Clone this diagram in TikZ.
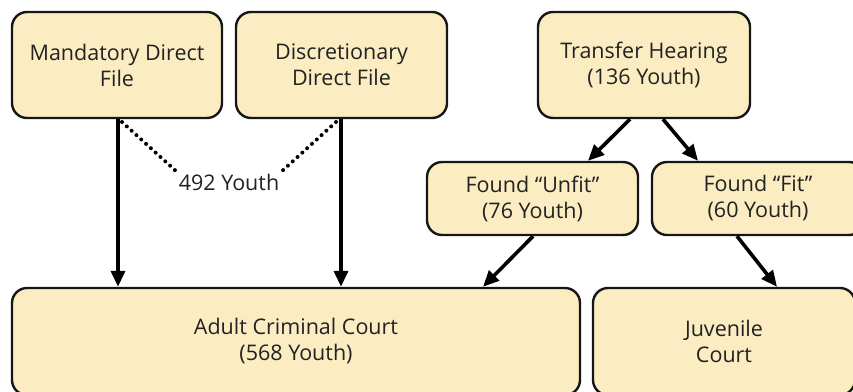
\documentclass[tikz,border=0pt]{standalone}
\usepackage{fontspec}
\setmainfont{Open Sans}
\usetikzlibrary{arrows.meta}
\definecolor{boxfill}{RGB}{251,236,193}
\definecolor{boxline}{RGB}{22,22,22}
\definecolor{txt}{RGB}{34,34,34}
\tikzset{
  box/.style={draw=boxline, fill=boxfill, line width=2.4pt, rounded corners=15pt,
    text=txt, align=center, inner sep=0pt,
    font=\fontsize{21.5}{26}\selectfont},
  flow/.style={line width=3.6pt, draw=black, -{Triangle[length=16pt,width=14pt]}},
  dots/.style={line width=4pt, draw=black, line cap=round, dash pattern=on 0pt off 6.5pt},
}
\begin{document}
\begin{tikzpicture}[x=1pt,y=-1pt]
\useasboundingbox (0,0) rectangle (853,391);
\clip (0,0) rectangle (853,391);
\node[box, minimum width=210pt, minimum height=106pt] (mand) at (117,65) {Mandatory Direct\\File};
\node[box, minimum width=211pt, minimum height=106pt] (disc) at (341.5,65) {Discretionary\\Direct File};
\node[box, minimum width=212pt, minimum height=106pt] (trans) at (644,65) {Transfer Hearing\\(136 Youth)};
\node[box, minimum width=211pt, minimum height=73pt] (unfit) at (532.5,198.5) {Found “Unfit”\\(76 Youth)};
\node[box, minimum width=212pt, minimum height=73pt] (fit) at (758,198.5) {Found “Fit”\\(60 Youth)};
\node[box, minimum width=568pt, minimum height=107pt] (adult) at (296,341.5) {Adult Criminal Court\\(568 Youth)};
\node[box, minimum width=262pt, minimum height=107pt] (juv) at (724,341.5) {Juvenile\\Court};
\node[text=txt, font=\fontsize{21.5}{26}\selectfont, inner sep=1pt] (lbl) at (229,182) {492 Youth};
\coordinate (ml) at (122,122);
\coordinate (dl) at (336,122);
\draw[dots] (ml) -- (lbl.north west);
\draw[dots] (dl) -- (lbl.north east);
\draw[flow] (mand.south -| 118,0) -- (adult.north -| 118,0);
\draw[flow] (disc.south -| 341,0) -- (adult.north -| 341,0);
\draw[flow] (trans.south -| 630,0) -- (unfit.north -| 588,0);
\draw[flow] (trans.south -| 663,0) -- (fit.north -| 698,0);
\draw[flow] (unfit.south -| 533,0) -- (adult.north -| 483,0);
\draw[flow] (fit.south -| 737,0) -- (juv.north -| 777,0);
\end{tikzpicture}
\end{document}
